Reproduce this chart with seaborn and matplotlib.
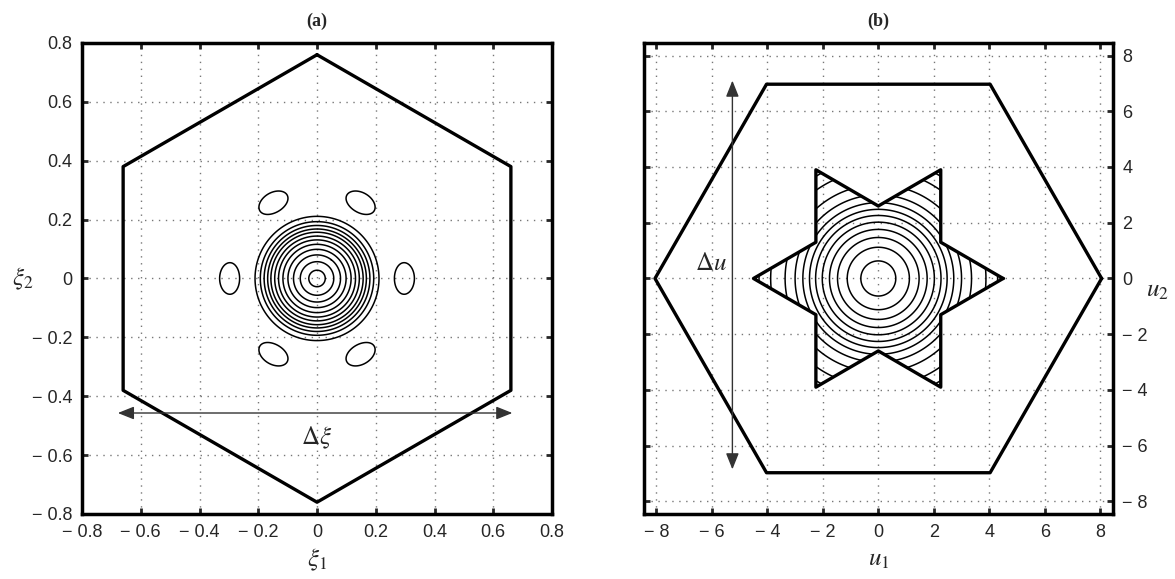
import numpy as np
import matplotlib.pyplot as plt
import seaborn as sns
from matplotlib.patches import Polygon
from matplotlib.ticker import FuncFormatter

# hexagon / star vertices
hex_a_x = [0.0, 0.66, 0.66, 0.0, -0.66, -0.66]
hex_a_y = [0.76, 0.38, -0.38, -0.76, -0.38, 0.38]
hex_b_x = [8.05, 4.03, -4.03, -8.05, -4.03, 4.03]
hex_b_y = [0.0, 6.97, 6.97, 0.0, -6.97, -6.97]
star_x = [4.5, 2.25, 2.25, 0.0, -2.25, -2.25, -4.5, -2.25, -2.25, 0.0, 2.25, 2.25]
star_y = [0.0, 1.3, 3.9, 2.6, 3.9, 1.3, 0.0, -1.3, -3.9, -2.6, -3.9, -1.3]

# contour ring radii
rings_a = [0.028, 0.057, 0.080, 0.099, 0.116, 0.131, 0.144, 0.157, 0.168, 0.180, 0.193, 0.211]
rings_b = [0.63, 1.12, 1.47, 1.76, 2.02, 2.26, 2.48, 2.72, 3.0, 3.36, 3.88, 4.3]

# side lobes in (a)
lobe_angles = [0, 60, 120, 180, 240, 300]
lobe_r = 0.2975
lobe_dr = 0.034
lobe_dth = 0.18

ticks_a = [-0.8, -0.6, -0.4, -0.2, 0, 0.2, 0.4, 0.6, 0.8]
ticks_b = [-8, -6, -4, -2, 0, 2, 4, 6, 8]

sns.set_style('white')
plt.rcParams['font.family'] = ['Liberation Sans', 'DejaVu Sans']
plt.rcParams['mathtext.fontset'] = 'stix'

ARROW = dict(arrowstyle='<|-|>,head_length=0.7,head_width=0.28',
             color='#333333', lw=1, mutation_scale=14, shrinkA=0, shrinkB=0)


def fmt(v, pos):
    if abs(v) < 1e-9:
        return '0'
    s = f'{abs(v):g}'
    return '\u2212 ' + s if v < 0 else s


def style_axes(ax, ticks, lim):
    ax.set_xlim(-lim, lim)
    ax.set_ylim(-lim, lim)
    ax.set_xticks(ticks)
    ax.set_yticks(ticks)
    ax.xaxis.set_major_formatter(FuncFormatter(fmt))
    ax.yaxis.set_major_formatter(FuncFormatter(fmt))
    ax.grid(True, color='#777777', linestyle=(0, (1, 4)), linewidth=1)
    ax.tick_params(direction='in', length=4, width=2, labelsize=13, pad=7,
                   top=True, right=True, bottom=True, left=True)
    for sp in ax.spines.values():
        sp.set_linewidth(2.5)
        sp.set_color('black')


def outline(ax, xs, ys):
    sns.lineplot(x=list(xs) + [xs[0]], y=list(ys) + [ys[0]], sort=False,
                 estimator=None, color='black', linewidth=2.4, ax=ax)


fig = plt.figure(figsize=(11.75, 5.79), dpi=100)
ax1 = fig.add_axes([0.0698, 0.1123, 0.4, 0.8135])
ax2 = fig.add_axes([0.548, 0.1123, 0.399, 0.8135])

# ---- (a)
g = np.linspace(-0.8, 0.8, 801)
X, Y = np.meshgrid(g, g)
R = np.hypot(X, Y)
TH = np.arctan2(Y, X)
ax1.contour(X, Y, R, levels=rings_a, colors='black', linewidths=1.1)
lobes = np.zeros_like(R)
for a in lobe_angles:
    d = np.angle(np.exp(1j * (TH - np.deg2rad(a))))
    lobes += np.exp(-((R - lobe_r) / lobe_dr) ** 2 - (d / lobe_dth) ** 2)
ax1.contour(X, Y, lobes, levels=[np.exp(-1)], colors='black', linewidths=1.1)
outline(ax1, hex_a_x, hex_a_y)
ax1.annotate('', xy=(0.665, -0.457), xytext=(-0.678, -0.457), arrowprops=ARROW)
ax1.text(0, -0.54, r'$\Delta\xi$', fontsize=18, ha='center', va='center')
style_axes(ax1, ticks_a, 0.8)
ax1.set_title('(a)', fontsize=13, fontweight='bold', family='Liberation Serif', pad=12)
ax1.set_xlabel(r'$\xi_1$', fontsize=18)
ax1.set_ylabel(r'$\xi_2$', fontsize=18, rotation=0, va='center', ha='center')
ax1.xaxis.set_label_coords(0.5, -0.07)
ax1.yaxis.set_label_coords(-0.125, 0.5)

# ---- (b)
g = np.linspace(-5, 5, 801)
X, Y = np.meshgrid(g, g)
R = np.hypot(X, Y)
cs = ax2.contour(X, Y, R, levels=rings_b, colors='black', linewidths=1.1)
star = Polygon(np.column_stack([star_x, star_y]), closed=True,
               transform=ax2.transData, fill=False)
cs.set_clip_path(star)
outline(ax2, star_x, star_y)
outline(ax2, hex_b_x, hex_b_y)
ax2.annotate('', xy=(-5.26, 7.1), xytext=(-5.26, -6.85), arrowprops=ARROW)
ax2.text(-5.45, 0.55, r'$\Delta u$', fontsize=18, ha='right', va='center')
style_axes(ax2, ticks_b, 8.45)
ax2.yaxis.tick_right()
ax2.tick_params(left=True, labelleft=False, labelright=True)
ax2.set_title('(b)', fontsize=13, fontweight='bold', family='Liberation Serif', pad=12)
ax2.set_xlabel(r'$u_1$', fontsize=18)
ax2.set_ylabel(r'$u_2$', fontsize=18, rotation=0, va='center', ha='center')
ax2.yaxis.set_label_position('right')
ax2.xaxis.set_label_coords(0.5, -0.07)
ax2.yaxis.set_label_coords(1.095, 0.5)

fig.savefig('out.png', dpi=100)
